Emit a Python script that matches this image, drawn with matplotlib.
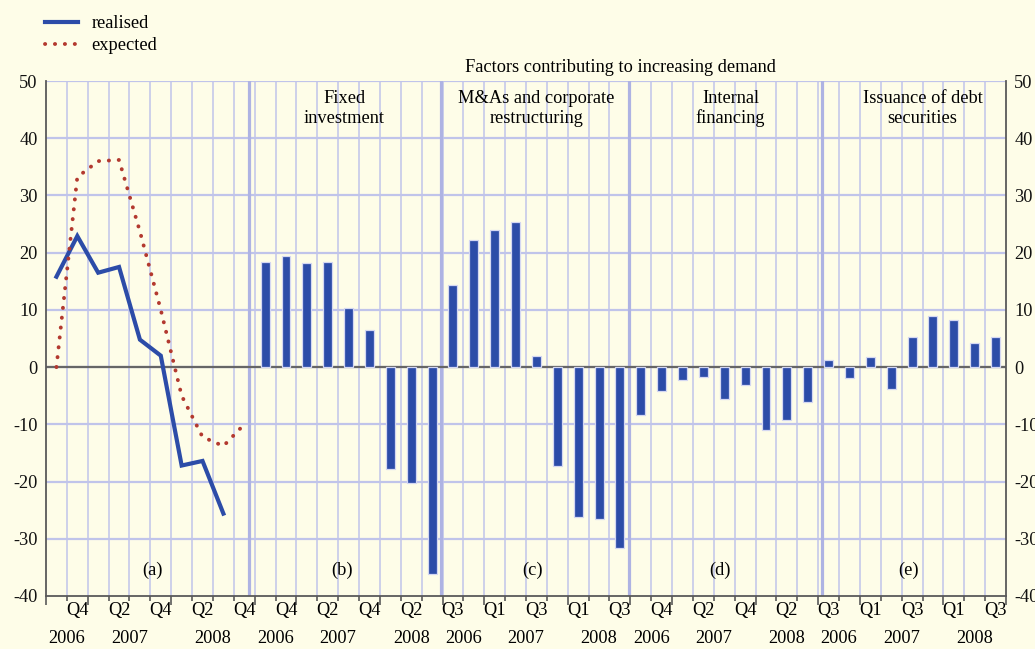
import matplotlib
matplotlib.use("Agg")
import matplotlib.pyplot as plt
import matplotlib.transforms as mtransforms
from matplotlib.lines import Line2D
import numpy as np

plt.rcParams["font.family"] = ["Liberation Serif", "DejaVu Serif"]
plt.rcParams["font.size"] = 13.2
plt.rcParams["axes.unicode_minus"] = False

# ---- data ----
quarters_a = ["Q3", "Q4", "Q1", "Q2", "Q3", "Q4", "Q1", "Q2", "Q3", "Q4"]
years_a = [2006, 2006, 2007, 2007, 2007, 2007, 2008, 2008, 2008, 2008]
quarters_bar = ["Q3", "Q4", "Q1", "Q2", "Q3", "Q4", "Q1", "Q2", "Q3"]
years_bar = [2006, 2006, 2007, 2007, 2007, 2007, 2008, 2008, 2008]

realised = [15.8, 22.9, 16.5, 17.5, 4.8, 2.0, -17.2, -16.4, -25.6]
expected = [0.0, 33.2, 36.0, 36.2, 23.7, 10.0, -5.0, -12.2, -13.8, -10.0]

fixed_investment = [18.3, 19.4, 18.2, 18.3, 10.4, 6.5, -17.8, -20.3, -36.2]
mna_restructuring = [14.3, 22.2, 24.0, 25.4, 1.9, -17.3, -26.2, -26.6, -31.6]
internal_financing = [-8.3, -4.2, -2.2, -1.7, -5.6, -3.1, -11.0, -9.2, -6.1]
debt_securities = [1.3, -1.9, 1.8, -3.9, 5.2, 8.9, 8.2, 4.3, 5.2]

bar_series = [fixed_investment, mna_restructuring, internal_financing, debt_securities]
bar_titles = ["Fixed\ninvestment", "M&As and corporate\nrestructuring",
              "Internal\nfinancing", "Issuance of debt\nsecurities"]
panel_letters = ["(a)", "(b)", "(c)", "(d)", "(e)"]
# which quarters get a label in each panel (every other one)
label_start = [1, 1, 0, 1, 0]
# small nudges so the texts sit where the original has them
title_nudge = [-0.2, 0.0, 0.3, 0.5]
letter_nudge = [0.1, -0.3, -0.2, -0.2, -0.15]

BG = "#fefde8"
GRID = "#c0c4ea"
SEP = "#aeb3e3"
BLUE = "#2c4ca8"
RED = "#b3392f"
AXC = "#5a5a5a"

fig = plt.figure(figsize=(10.35, 6.49), dpi=100, facecolor=BG)
ax = fig.add_axes([46 / 1035, 1 - 596 / 649, 960 / 1035, 515 / 649])
ax.set_facecolor(BG)

# slot positions of each panel
starts = [0]
sizes = [len(quarters_a)] + [len(s) for s in bar_series]
for n in sizes[:-1]:
    starts.append(starts[-1] + n)
n_slots = sum(sizes)

ax.set_xlim(-0.5, n_slots - 0.5)
ax.set_ylim(-40, 50)

# grid
for k in range(1, n_slots):
    ax.axvline(k - 0.5, color=GRID, lw=1.1, zorder=1)
for y in range(-30, 51, 10):
    ax.axhline(y, color=GRID, lw=1.6, zorder=1)
for s, off in zip(starts[1:], [-0.26, -0.09, -0.05, 0.17]):
    ax.axvline(s - 0.5 + off, color=SEP, lw=2.3, zorder=1.5)
ax.axhline(0, color="#666666", lw=1.6, zorder=2)

# panel (a): lines
xa = np.arange(len(quarters_a))
ax.plot(xa[:len(realised)], realised, color=BLUE, lw=3.0, zorder=4,
        solid_joinstyle="miter")
ax.plot(xa[:len(expected)], expected, color=RED, lw=2.8, zorder=4,
        linestyle=(0, (0.05, 2.5)), dash_capstyle="round")

# panels (b)-(e): bars
for s, vals, title, dx in zip(starts[1:], bar_series, bar_titles, title_nudge):
    xb = s + np.arange(len(vals))
    ax.bar(xb, vals, width=0.43, color=BLUE, edgecolor="#d4d7f2", lw=0.9, zorder=3)
    ax.text(s + (len(vals) - 1) / 2 + dx, 45.2, title, ha="center", va="center",
            linespacing=1.2, zorder=5)

for s, n, letter, dx in zip(starts, sizes, panel_letters, letter_nudge):
    ax.text(s + (n - 1) / 2 + dx, -35.5, letter, ha="center", va="center", zorder=5)

ax.text(0.598, 1.027, "Factors contributing to increasing demand",
        transform=ax.transAxes, ha="center", va="center")

# x labels: quarters and years
trans = mtransforms.blended_transform_factory(ax.transData, ax.transAxes)
major_ticks = []
for p, (s, n) in enumerate(zip(starts, sizes)):
    qs = quarters_a if p == 0 else quarters_bar
    ys = years_a if p == 0 else years_bar
    major_ticks.append(s - 0.5)
    for i in range(label_start[p], n, 2):
        ax.text(s + i, -0.029, qs[i], transform=trans, ha="center", va="center")
    for yr in sorted(set(ys)):
        idx = [i for i in range(n) if ys[i] == yr]
        ax.text(s + np.mean(idx), -0.083, str(yr), transform=trans,
                ha="center", va="center")
        if idx[0] > 0:
            major_ticks.append(s + idx[0] - 0.5)
major_ticks.append(n_slots - 0.5)

ax.set_xticks(major_ticks)
ax.set_xticks([k - 0.5 for k in range(n_slots + 1)], minor=True)
ax.set_xticklabels([])
ax.tick_params(axis="x", which="major", length=6.5, width=1.2, color=AXC,
               direction="out")
ax.tick_params(axis="x", which="minor", length=3.5, width=1.2, color=AXC,
               direction="out")

ax.set_yticks(range(-40, 51, 10))
ax.tick_params(axis="y", length=0, pad=6.0, labelright=True, labelleft=True,
               labelcolor="#111111")

for side in ["left", "right", "bottom"]:
    ax.spines[side].set_color(AXC)
    ax.spines[side].set_linewidth(1.3)
ax.spines["top"].set_visible(False)

# legend
handles = [Line2D([], [], color=BLUE, lw=3.0),
           Line2D([], [], color=RED, lw=2.8, linestyle=(0, (0.05, 2.5)),
                  dash_capstyle="round")]
fig.legend(handles, ["realised", "expected"], loc="upper left",
           bbox_to_anchor=(45 / 1035, 1 - 15 / 649), frameon=False,
           handlelength=1.8, handletextpad=0.75, labelspacing=0.3,
           borderpad=0, borderaxespad=0)

fig.savefig("out.png", dpi=100, facecolor=BG)
